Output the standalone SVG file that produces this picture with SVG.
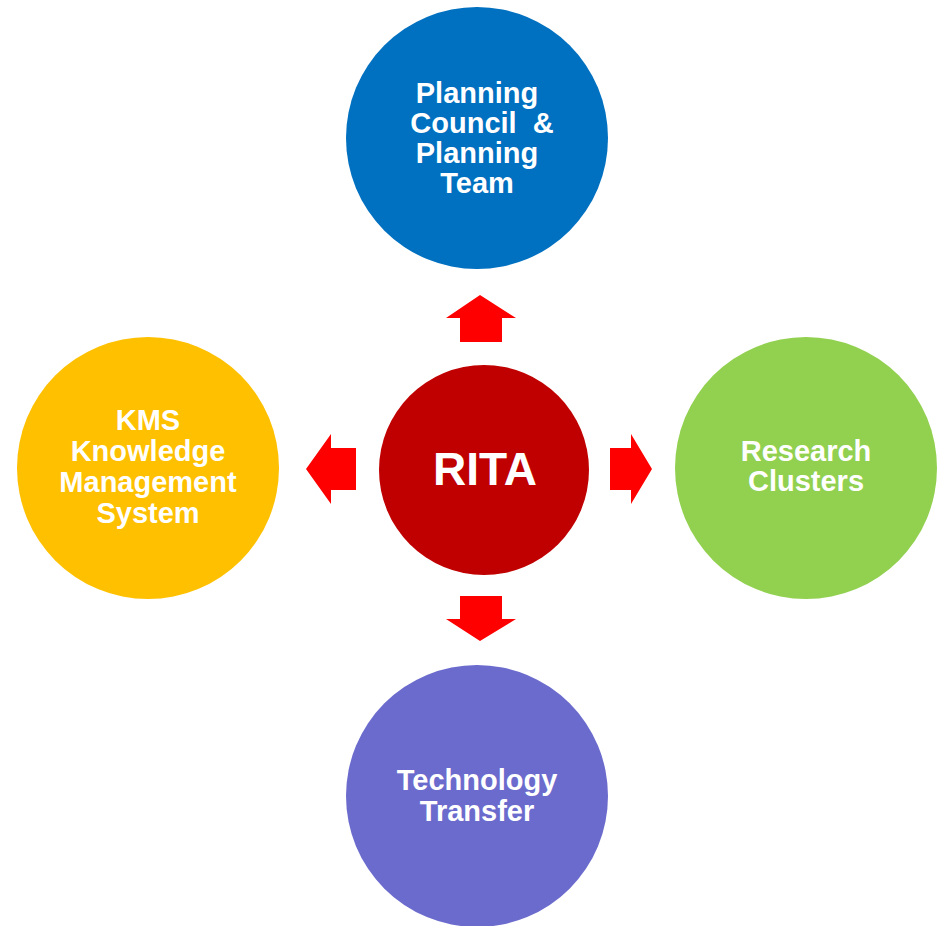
<svg xmlns="http://www.w3.org/2000/svg" width="940" height="926" viewBox="0 0 940 926">
<style>
.lbl{font-family:"Liberation Sans",Arial,sans-serif;font-weight:bold;font-size:29px;fill:#fff;text-anchor:middle;white-space:pre}
.big{font-size:46px}
.arr{fill:#FF0000}
</style>
<rect width="940" height="926" fill="#fff"/>
<g id="connectors">
<polygon class="arr" points="480,295 516,318 502,318 502,342 460,342 460,318 446,318"/>
<polygon class="arr" points="480,641 516,619 502,619 502,596 460,596 460,619 446,619"/>
<polygon class="arr" points="306,469 331,434 331,448 356,448 356,490 331,490 331,504"/>
<polygon class="arr" points="652,469 631,434 631,448 610,448 610,490 631,490 631,504"/>
</g>
<g id="rita">
<circle cx="484" cy="470" r="105" fill="#C00000"/>
<text class="lbl big" x="485" y="485">RITA</text>
</g>
<g id="planning">
<circle cx="477" cy="138" r="131" fill="#0070C0"/>
<text class="lbl" x="477" y="103">Planning</text>
<text class="lbl" x="482" y="133" xml:space="preserve">Council  &amp;</text>
<text class="lbl" x="477" y="163">Planning</text>
<text class="lbl" x="477" y="193">Team</text>
</g>
<g id="kms">
<circle cx="148" cy="468" r="131" fill="#FFC000"/>
<text class="lbl" x="148" y="430">KMS</text>
<text class="lbl" x="148" y="461">Knowledge</text>
<text class="lbl" x="148" y="492">Management</text>
<text class="lbl" x="148" y="523">System</text>
</g>
<g id="research">
<circle cx="806" cy="468" r="131" fill="#92D050"/>
<text class="lbl" x="806" y="461">Research</text>
<text class="lbl" x="806" y="491">Clusters</text>
</g>
<g id="tech">
<circle cx="477" cy="796" r="131" fill="#6B6BCD"/>
<text class="lbl" x="477" y="790">Technology</text>
<text class="lbl" x="477" y="821">Transfer</text>
</g>
</svg>
